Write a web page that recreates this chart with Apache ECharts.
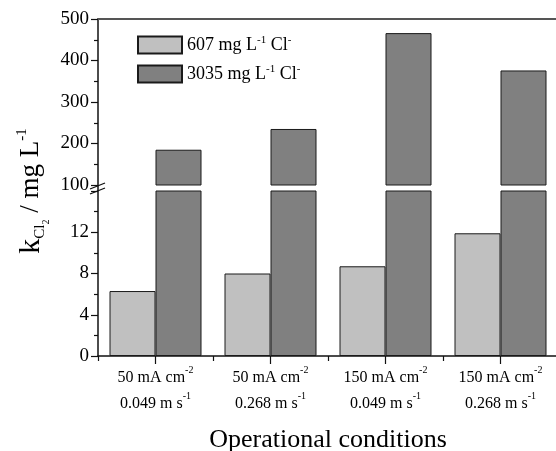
<!DOCTYPE html>
<html><head><meta charset="utf-8">
<script src="https://cdn.jsdelivr.net/npm/echarts@6/dist/echarts.min.js"></script>
<style>html,body{margin:0;padding:0;background:#fff}#c{width:556px;height:451px}</style>
</head><body><div id="c"></div>
<script>
var currents = ['50 mA cm', '50 mA cm', '150 mA cm', '150 mA cm'];
var velocities = ['0.049 m s', '0.268 m s', '0.049 m s', '0.268 m s'];
var lowCl = [6.3, 8.0, 8.7, 11.9];
var highCl = [185, 235, 466, 376];
var seriesNames = ['607 mg L{sup|-1} Cl{sup|-}', '3035 mg L{sup|-1} Cl{sup|-}'];
var upperTicks = [100, 500, 100];
var lowerTicks = [0, 16, 4];

var FONT = '"Liberation Serif", "Times New Roman", serif';
var categories = currents.map(function (c, i) { return i; });
var chart = echarts.init(document.getElementById('c'), null, {renderer: 'canvas'});
var LIGHT = '#c0c0c0', DARK = '#808080', EDGE = '#1a1a1a';

function bar(name, data, color, idx) {
  return {
    type: 'bar', name: name, data: data, xAxisIndex: idx, yAxisIndex: idx,
    barGap: '0%', barCategoryGap: '20%', clip: true,
    itemStyle: {color: color, borderColor: EDGE, borderWidth: 1},
    emphasis: {disabled: true}
  };
}
function yAxisCommon(gi, t) {
  return {
    type: 'value', gridIndex: gi, min: t[0], max: t[1], interval: t[2],
    axisLine: {show: true, lineStyle: {color: '#111', width: 1.5}},
    axisTick: {show: true, inside: false, length: 7, lineStyle: {color: '#111', width: 1.2}},
    minorTick: {show: true, splitNumber: 2, length: 4, lineStyle: {color: '#111', width: 1.2}},
    splitLine: {show: false},
    axisLabel: {fontFamily: FONT, fontSize: 19, color: '#000', margin: 9,
      showMaxLabel: gi === 0}
  };
}
var option = {
  animation: false,
  grid: [
    {left: 98, top: 19, width: 460, height: 166, outerBoundsMode: 'none', containLabel: false},
    {left: 98, top: 191, width: 460, height: 165, outerBoundsMode: 'none', containLabel: false}
  ],
  legend: {
    orient: 'vertical', left: 137, top: 35, padding: 0, itemWidth: 44, itemHeight: 17, itemGap: 9,
    icon: 'rect', data: seriesNames, selectedMode: false,
    textStyle: {fontFamily: FONT, fontSize: 18, color: '#000', lineHeight: 20, rich: {
      sup: {fontFamily: FONT, fontSize: 11, verticalAlign: 'top', lineHeight: 20, color: '#000'}
    }}
  },
  xAxis: [
    {type: 'category', gridIndex: 0, data: categories, position: 'top',
     axisLine: {show: true, lineStyle: {color: '#555', width: 2}}, axisTick: {show: false}, axisLabel: {show: false}},
    {type: 'category', gridIndex: 1, data: categories, position: 'bottom',
     axisLine: {show: true, lineStyle: {color: '#111', width: 1.5}},
     axisTick: {show: true, alignWithLabel: true, length: 8, lineStyle: {color: '#111', width: 1.2}},
     axisLabel: {interval: 0, fontFamily: FONT, fontSize: 16, color: '#000', margin: 9, lineHeight: 26,
       formatter: function (v, i) { return currents[i] + '{sup|-2}\n' + velocities[i] + '{sup|-1}'; },
       rich: {sup: {fontFamily: FONT, fontSize: 10, verticalAlign: 'top', lineHeight: 26, color: '#000'}}},
     name: 'Operational conditions', nameLocation: 'middle', nameGap: 71,
     nameTextStyle: {fontFamily: FONT, fontSize: 26, color: '#000'}},
    {type: 'category', gridIndex: 1, data: categories, position: 'bottom',
     axisLine: {show: false}, axisLabel: {show: false},
     axisTick: {show: true, alignWithLabel: false, length: 5, lineStyle: {color: '#111', width: 1.2}}}
  ],
  yAxis: [yAxisCommon(0, upperTicks), yAxisCommon(1, lowerTicks)],
  series: [
    bar(seriesNames[0], lowCl, LIGHT, 0),
    bar(seriesNames[1], highCl, DARK, 0),
    bar(seriesNames[0], lowCl, LIGHT, 1),
    bar(seriesNames[1], highCl, DARK, 1)
  ],
  graphic: [
    {type: 'line', shape: {x1: 98, y1: 185, x2: 98, y2: 191}, style: {stroke: '#111', lineWidth: 1.5}, z: 100},
    {type: 'line', shape: {x1: 90, y1: 189, x2: 105, y2: 183}, style: {stroke: '#111', lineWidth: 1.3}, z: 101},
    {type: 'line', shape: {x1: 90, y1: 194, x2: 105, y2: 188}, style: {stroke: '#111', lineWidth: 1.3}, z: 101},
    {type: 'text', x: 31, y: 191, rotation: Math.PI / 2, z: 100,
     style: {text: '{k|k}{s|Cl}{ss|2}{n| / mg L}{p|-1}', align: 'center', verticalAlign: 'middle',
       rich: {
         k: {fontFamily: FONT, fontSize: 30, lineHeight: 40, verticalAlign: 'middle', fill: '#000'},
         n: {fontFamily: FONT, fontSize: 27, lineHeight: 40, verticalAlign: 'middle', fill: '#000'},
         s: {fontFamily: FONT, fontSize: 15, lineHeight: 15, verticalAlign: 'bottom', padding: [0,0,3,0], fill: '#000'},
         ss: {fontFamily: FONT, fontSize: 10, lineHeight: 10, verticalAlign: 'bottom', padding: [0,0,0,0], fill: '#000'},
         p: {fontFamily: FONT, fontSize: 15, lineHeight: 15, verticalAlign: 'top', padding: [4,0,0,0], fill: '#000'}
       }}}
  ]
};
chart.setOption(option);
</script></body></html>
